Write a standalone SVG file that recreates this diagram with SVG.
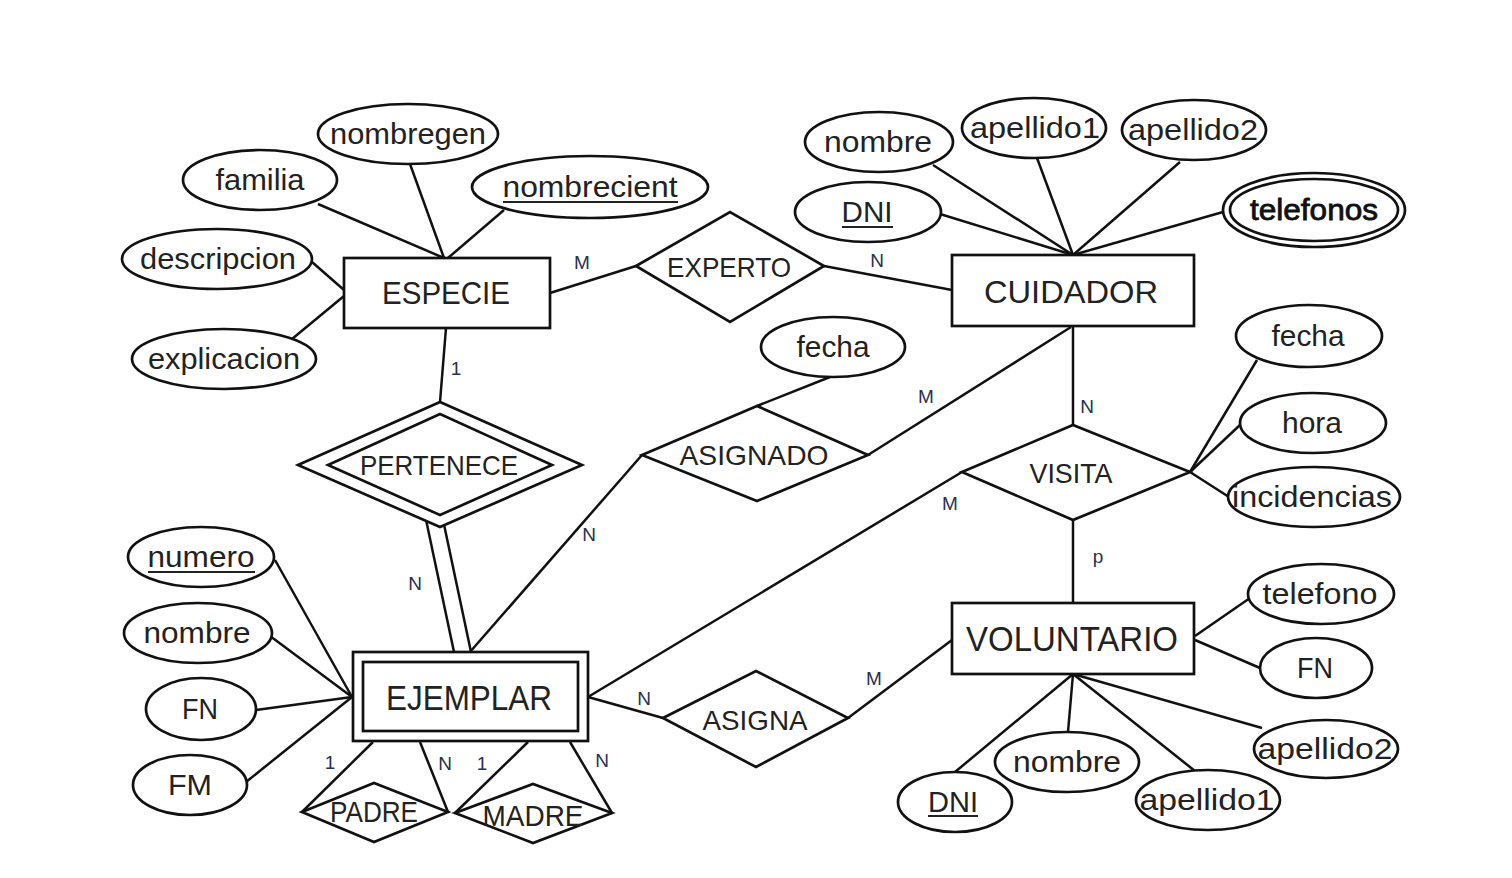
<svg xmlns="http://www.w3.org/2000/svg" width="1512" height="878" viewBox="0 0 1512 878">
<style>
.ln{stroke:#111;stroke-width:2.5;fill:none}
.sh{fill:#fff;stroke:#111;stroke-width:2.7}
.t{font-family:"Liberation Sans",Arial,sans-serif;fill:#222;text-anchor:middle}
.a{font-size:29px}
.e{font-size:32px}
.r{font-size:28px}
.c{font-family:"Liberation Sans",Arial,sans-serif;font-size:19px;fill:#2a3050;text-anchor:middle}
.u{stroke:#222;stroke-width:1.8}
</style>
<rect width="1512" height="878" fill="#fff"/>
<g id="connectors">
<line class="ln" x1="410" y1="164" x2="444" y2="258"/>
<line class="ln" x1="318" y1="204" x2="444" y2="258"/>
<line class="ln" x1="504" y1="210" x2="448" y2="258"/>
<line class="ln" x1="312" y1="262" x2="344" y2="290"/>
<line class="ln" x1="292" y1="339" x2="344" y2="296"/>
<line class="ln" x1="550" y1="293" x2="636" y2="266"/>
<line class="ln" x1="824" y1="266" x2="952" y2="290"/>
<line class="ln" x1="933" y1="165" x2="1073" y2="255"/>
<line class="ln" x1="1037" y1="158" x2="1073" y2="255"/>
<line class="ln" x1="1180" y1="162" x2="1073" y2="255"/>
<line class="ln" x1="940" y1="214" x2="1073" y2="255"/>
<line class="ln" x1="1223" y1="212" x2="1073" y2="255"/>
<line class="ln" x1="446" y1="328" x2="440" y2="402"/>
<line class="ln" x1="425" y1="515" x2="454" y2="652"/>
<line class="ln" x1="442" y1="515" x2="471" y2="652"/>
<line class="ln" x1="830" y1="377" x2="757" y2="406"/>
<line class="ln" x1="868" y1="455" x2="1071" y2="327"/>
<line class="ln" x1="642" y1="455" x2="470" y2="652"/>
<line class="ln" x1="1073" y1="326" x2="1073" y2="425"/>
<line class="ln" x1="1073" y1="520" x2="1073" y2="603"/>
<line class="ln" x1="962" y1="472" x2="588" y2="697"/>
<line class="ln" x1="1190" y1="472" x2="1257" y2="360"/>
<line class="ln" x1="1190" y1="472" x2="1240" y2="425"/>
<line class="ln" x1="1190" y1="472" x2="1229" y2="497"/>
<line class="ln" x1="588" y1="697" x2="663" y2="718"/>
<line class="ln" x1="848" y1="718" x2="952" y2="640"/>
<line class="ln" x1="275" y1="560" x2="352" y2="697"/>
<line class="ln" x1="270" y1="636" x2="352" y2="697"/>
<line class="ln" x1="256" y1="710" x2="352" y2="697"/>
<line class="ln" x1="246" y1="782" x2="352" y2="697"/>
<line class="ln" x1="373" y1="742" x2="302" y2="812"/>
<line class="ln" x1="420" y1="742" x2="448" y2="812"/>
<line class="ln" x1="528" y1="742" x2="455" y2="813"/>
<line class="ln" x1="570" y1="742" x2="612" y2="813"/>
<line class="ln" x1="1195" y1="636" x2="1250" y2="598"/>
<line class="ln" x1="1195" y1="640" x2="1260" y2="668"/>
<line class="ln" x1="1073" y1="674" x2="1262" y2="728"/>
<line class="ln" x1="1073" y1="674" x2="1195" y2="771"/>
<line class="ln" x1="1073" y1="674" x2="1068" y2="732"/>
<line class="ln" x1="1073" y1="674" x2="955" y2="772"/>
<text class="c" x="582" y="269">M</text>
<text class="c" x="877" y="267">N</text>
<text class="c" x="456" y="375">1</text>
<text class="c" x="415" y="590">N</text>
<text class="c" x="589" y="541">N</text>
<text class="c" x="926" y="403">M</text>
<text class="c" x="1087" y="413">N</text>
<text class="c" x="950" y="510">M</text>
<text class="c" x="1098" y="563">p</text>
<text class="c" x="644" y="705">N</text>
<text class="c" x="874" y="685">M</text>
<text class="c" x="330" y="769">1</text>
<text class="c" x="445" y="770">N</text>
<text class="c" x="482" y="770">1</text>
<text class="c" x="602" y="767">N</text>
</g>
<g id="especie">
<rect class="sh" x="344" y="258" width="206" height="70"/>
<text class="t e" x="446" y="304" textLength="128" lengthAdjust="spacingAndGlyphs">ESPECIE</text>
</g>
<g id="nombregen">
<ellipse class="sh" cx="408" cy="134" rx="90" ry="30"/>
<text class="t a" x="408" y="144" textLength="156" lengthAdjust="spacingAndGlyphs">nombregen</text>
</g>
<g id="familia">
<ellipse class="sh" cx="260" cy="180" rx="77" ry="30"/>
<text class="t a" x="260" y="190" textLength="89" lengthAdjust="spacingAndGlyphs">familia</text>
</g>
<g id="nombrecient">
<ellipse class="sh" cx="590" cy="187" rx="118" ry="31"/>
<text class="t a" x="590" y="197" textLength="175" lengthAdjust="spacingAndGlyphs">nombrecient</text>
<line class="u" x1="503" y1="202" x2="678" y2="202"/>
</g>
<g id="descripcion">
<ellipse class="sh" cx="217" cy="259" rx="95" ry="30"/>
<text class="t a" x="218" y="269" textLength="156" lengthAdjust="spacingAndGlyphs">descripcion</text>
</g>
<g id="explicacion">
<ellipse class="sh" cx="224" cy="359" rx="92" ry="30"/>
<text class="t a" x="224" y="369" textLength="152" lengthAdjust="spacingAndGlyphs">explicacion</text>
</g>
<g id="experto">
<polygon class="sh" points="636,266 730,212 824,266 730,322"/>
<text class="t r" x="729" y="277" textLength="124" lengthAdjust="spacingAndGlyphs">EXPERTO</text>
</g>
<g id="cuidador">
<rect class="sh" x="952" y="255" width="242" height="71"/>
<text class="t e" x="1071" y="303" textLength="174" lengthAdjust="spacingAndGlyphs">CUIDADOR</text>
</g>
<g id="c-nombre">
<ellipse class="sh" cx="879" cy="142" rx="74" ry="30"/>
<text class="t a" x="878" y="152" textLength="108" lengthAdjust="spacingAndGlyphs">nombre</text>
</g>
<g id="c-apellido1">
<ellipse class="sh" cx="1034" cy="128" rx="72" ry="30"/>
<text class="t a" x="1035" y="138" textLength="130" lengthAdjust="spacingAndGlyphs">apellido1</text>
</g>
<g id="c-apellido2">
<ellipse class="sh" cx="1194" cy="130" rx="72" ry="30"/>
<text class="t a" x="1193" y="140" textLength="130" lengthAdjust="spacingAndGlyphs">apellido2</text>
</g>
<g id="c-dni">
<ellipse class="sh" cx="868" cy="212" rx="73" ry="30"/>
<text class="t a" x="867" y="222" textLength="51" lengthAdjust="spacingAndGlyphs">DNI</text>
<line class="u" x1="842" y1="227" x2="893" y2="227"/>
</g>
<g id="telefonos">
<ellipse class="sh" cx="1314" cy="210" rx="91" ry="37"/>
<ellipse class="sh" cx="1314" cy="210" rx="84" ry="31"/>
<text class="t a" x="1314" y="220" textLength="128" lengthAdjust="spacingAndGlyphs" style="fill:#111;stroke:#111;stroke-width:0.8">telefonos</text>
</g>
<g id="pertenece">
<polygon class="sh" points="298,465 440,402 582,465 440,527"/>
<polygon class="sh" points="328,465 440,414 552,465 440,515"/>
<text class="t r" x="439" y="475" textLength="158" lengthAdjust="spacingAndGlyphs">PERTENECE</text>
</g>
<g id="asignado">
<polygon class="sh" points="642,455 757,406 868,455 757,501"/>
<text class="t r" x="754" y="465" textLength="149" lengthAdjust="spacingAndGlyphs">ASIGNADO</text>
</g>
<g id="a-fecha">
<ellipse class="sh" cx="833" cy="347" rx="72" ry="30"/>
<text class="t a" x="833" y="357" textLength="73" lengthAdjust="spacingAndGlyphs">fecha</text>
</g>
<g id="visita">
<polygon class="sh" points="962,472 1073,425 1190,472 1073,520"/>
<text class="t r" x="1071" y="483" textLength="83" lengthAdjust="spacingAndGlyphs">VISITA</text>
</g>
<g id="v-fecha">
<ellipse class="sh" cx="1309" cy="336" rx="73" ry="31"/>
<text class="t a" x="1308" y="346" textLength="73" lengthAdjust="spacingAndGlyphs">fecha</text>
</g>
<g id="v-hora">
<ellipse class="sh" cx="1313" cy="423" rx="73" ry="30"/>
<text class="t a" x="1312" y="433" textLength="60" lengthAdjust="spacingAndGlyphs">hora</text>
</g>
<g id="v-incidencias">
<ellipse class="sh" cx="1314" cy="497" rx="86" ry="30"/>
<text class="t a" x="1312" y="507" textLength="160" lengthAdjust="spacingAndGlyphs">incidencias</text>
</g>
<g id="ejemplar">
<rect class="sh" x="353" y="652" width="235" height="89"/>
<rect class="sh" x="363" y="662" width="215" height="69"/>
<text class="t e" x="469" y="710" textLength="166" lengthAdjust="spacingAndGlyphs" style="font-size:35px">EJEMPLAR</text>
</g>
<g id="e-numero">
<ellipse class="sh" cx="201" cy="557" rx="73" ry="30"/>
<text class="t a" x="201" y="567" textLength="107" lengthAdjust="spacingAndGlyphs">numero</text>
<line class="u" x1="148" y1="572" x2="255" y2="572"/>
</g>
<g id="e-nombre">
<ellipse class="sh" cx="198" cy="633" rx="74" ry="30"/>
<text class="t a" x="197" y="643" textLength="107" lengthAdjust="spacingAndGlyphs">nombre</text>
</g>
<g id="e-fn">
<ellipse class="sh" cx="201" cy="709" rx="55" ry="31"/>
<text class="t a" x="200" y="719" textLength="36" lengthAdjust="spacingAndGlyphs">FN</text>
</g>
<g id="e-fm">
<ellipse class="sh" cx="190" cy="785" rx="57" ry="30"/>
<text class="t a" x="190" y="795" textLength="44" lengthAdjust="spacingAndGlyphs">FM</text>
</g>
<g id="padre">
<polygon class="sh" points="302,812 374,783 448,812 374,842"/>
<text class="t r" x="374" y="822" textLength="88" lengthAdjust="spacingAndGlyphs" style="font-size:30px">PADRE</text>
</g>
<g id="madre">
<polygon class="sh" points="455,813 533,784 612,813 533,843"/>
<text class="t r" x="533" y="826" textLength="101" lengthAdjust="spacingAndGlyphs" style="font-size:30px">MADRE</text>
</g>
<g id="asigna">
<polygon class="sh" points="663,718 756,671 848,718 756,767"/>
<text class="t r" x="755" y="730" textLength="105" lengthAdjust="spacingAndGlyphs">ASIGNA</text>
</g>
<g id="voluntario">
<rect class="sh" x="952" y="603" width="242" height="71"/>
<text class="t e" x="1072" y="651" textLength="212" lengthAdjust="spacingAndGlyphs" style="font-size:35px">VOLUNTARIO</text>
</g>
<g id="vo-telefono">
<ellipse class="sh" cx="1321" cy="594" rx="73" ry="30"/>
<text class="t a" x="1320" y="604" textLength="115" lengthAdjust="spacingAndGlyphs">telefono</text>
</g>
<g id="vo-fn">
<ellipse class="sh" cx="1316" cy="668" rx="56" ry="30"/>
<text class="t a" x="1315" y="678" textLength="36" lengthAdjust="spacingAndGlyphs">FN</text>
</g>
<g id="vo-apellido2">
<ellipse class="sh" cx="1326" cy="749" rx="72" ry="29"/>
<text class="t a" x="1325" y="759" textLength="135" lengthAdjust="spacingAndGlyphs">apellido2</text>
</g>
<g id="vo-apellido1">
<ellipse class="sh" cx="1208" cy="800" rx="72" ry="30"/>
<text class="t a" x="1207" y="810" textLength="135" lengthAdjust="spacingAndGlyphs">apellido1</text>
</g>
<g id="vo-nombre">
<ellipse class="sh" cx="1067" cy="762" rx="72" ry="30"/>
<text class="t a" x="1067" y="772" textLength="108" lengthAdjust="spacingAndGlyphs">nombre</text>
</g>
<g id="vo-dni">
<ellipse class="sh" cx="955" cy="802" rx="57" ry="30"/>
<text class="t a" x="953" y="812" textLength="50" lengthAdjust="spacingAndGlyphs">DNI</text>
<line class="u" x1="928" y1="816" x2="978" y2="816"/>
</g>
</svg>
